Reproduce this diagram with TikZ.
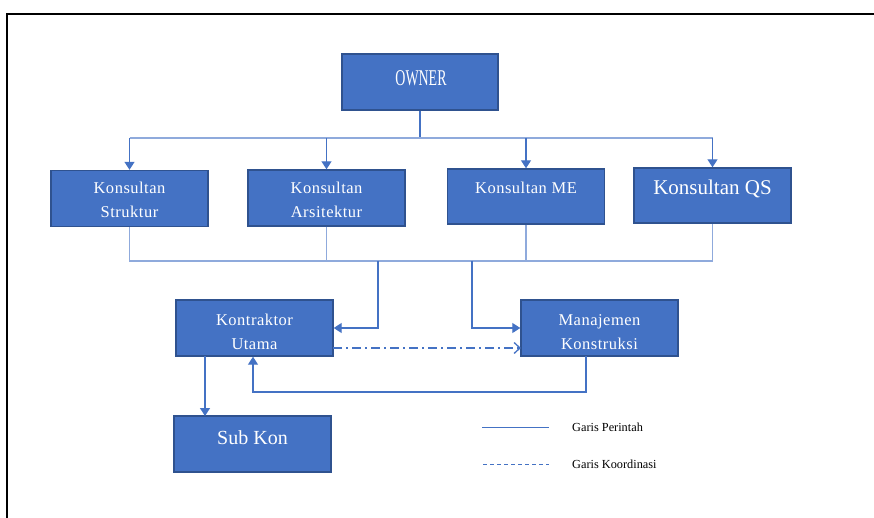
\documentclass[tikz,border=0pt]{standalone}
\usepackage{fontspec}
\setmainfont{Liberation Serif}
\newfontfamily\condfont[FakeStretch=0.62]{Liberation Serif}
\newfontfamily\boxfont[LetterSpace=3]{Liberation Serif}
\usetikzlibrary{arrows.meta}
\definecolor{boxfill}{HTML}{4472C4}
\definecolor{boxedge}{HTML}{2F528F}
\definecolor{lineblue}{HTML}{4472C4}
\definecolor{lightline}{HTML}{8FAADC}
\tikzset{
  box/.style={draw=boxedge, fill=boxfill, line width=1.4pt, minimum width=157pt, minimum height=56pt, inner sep=0pt},
  boxtext/.style={text=white, font=\boxfont\fontsize{16.5}{24}\selectfont, align=center, inner sep=0pt},
  bigtext/.style={text=white, font=\rmfamily\fontsize{21}{24}\selectfont, align=center, inner sep=0pt},
  cmd/.style={draw=lineblue, line width=1.3pt, -{Triangle[width=10pt,length=8pt]}},
  plain/.style={draw=lineblue, line width=1.3pt},
  thinline/.style={draw=lightline, line width=1.1pt},
  legtext/.style={anchor=west, inner sep=0pt, font=\rmfamily\fontsize{12.3}{15}\selectfont},
}
\begin{document}
\begin{tikzpicture}[x=1pt,y=-1pt]
\useasboundingbox (0,0) rectangle (874,518);
% frame
\draw[line width=1.8pt, black] (7,518) -- (7,14) -- (874,14);

% boxes
\node[box, minimum width=156pt] (owner) at (420,82) {};
\node[box] (ks) at (129.5,198.5) {};
\node[box] (ka) at (326.5,198) {};
\node[box, minimum height=55pt] (kme) at (526,196.5) {};
\node[box, minimum height=55pt] (kqs) at (712.5,195.5) {};
\node[box] (ku) at (254.5,328) {};
\node[box] (mk) at (599.5,328) {};
\node[box] (sk) at (252.5,444) {};

% texts
\node[text=white, inner sep=0pt, font=\condfont\fontsize{22.5}{24}\selectfont] (towner) at (421,78) {OWNER};
\node[boxtext] (tks) at (129.5,200) {Konsultan\\Struktur};
\node[boxtext] (tka) at (326.5,200) {Konsultan\\Arsitektur};
\node[boxtext] (tkme) at (526,188) {Konsultan ME};
\node[bigtext] (tkqs) at (712.5,189) {Konsultan QS};
\node[boxtext] (tku) at (254.5,332) {Kontraktor\\Utama};
\node[boxtext] (tmk) at (599.5,332) {Manajemen\\Konstruksi};
\node[bigtext, font=\rmfamily\fontsize{20}{24}\selectfont] (tsk) at (252.5,438) {Sub Kon};

% owner to consultants
\coordinate (bus1) at (420,138);
\draw[plain] (owner.south) -- (bus1);
\draw[thinline] (bus1 -| ks.north) -- (bus1 -| kqs.north);
\draw[cmd] (bus1 -| ks.north) -- (ks.north);
\draw[cmd] (bus1 -| ka.north) -- (ka.north);
\draw[cmd] (bus1 -| kme.north) -- (kme.north);
\draw[cmd] (bus1 -| kqs.north) -- (kqs.north);

% consultants bus
\coordinate (bus2) at (420,261);
\draw[thinline] (ks.south) -- (bus2 -| ks.south) -- (bus2 -| kqs.south) -- (kqs.south);
\draw[thinline] (ka.south) -- (bus2 -| ka.south);
\draw[thinline] (kme.south) -- (bus2 -| kme.south);

% to contractor and MK
\coordinate (d1) at (378,261);
\coordinate (d2) at (472,261);
\draw[cmd] (d1) -- (d1 |- ku.east) -- (ku.east);
\draw[cmd] (d2) -- (d2 |- mk.west) -- (mk.west);

% coordination dash-dot
\coordinate (c1) at (333,348);
\coordinate (c2) at (521,348);
\draw[draw=lineblue, line width=1.3pt, dash pattern=on 9pt off 4pt on 2pt off 4pt, -{Straight Barb[width=11pt,length=6pt]}] (c1) -- (c2);

% MK back to contractor
\coordinate (r1) at (586,356);
\coordinate (r2) at (586,392);
\draw[cmd] (r1) -- (r2) -| ([xshift=-1.5pt]ku.south);

% contractor to sub kon
\coordinate (s1) at (205,356);
\coordinate (s2) at (205,416);
\draw[cmd] (s1) -- (s2);

% legend
\coordinate (la) at (482,427);
\coordinate (lb) at (549,427);
\coordinate (lc) at (483,464);
\coordinate (ld) at (549,464);
\draw[draw=lineblue, line width=1pt] (la) -- (lb);
\draw[draw=lineblue, line width=1pt, dash pattern=on 4pt off 3pt] (lc) -- (ld);
\node[legtext] (lt1) at (572,427) {Garis Perintah};
\node[legtext] (lt2) at (572,464) {Garis Koordinasi};
\end{tikzpicture}
\end{document}
